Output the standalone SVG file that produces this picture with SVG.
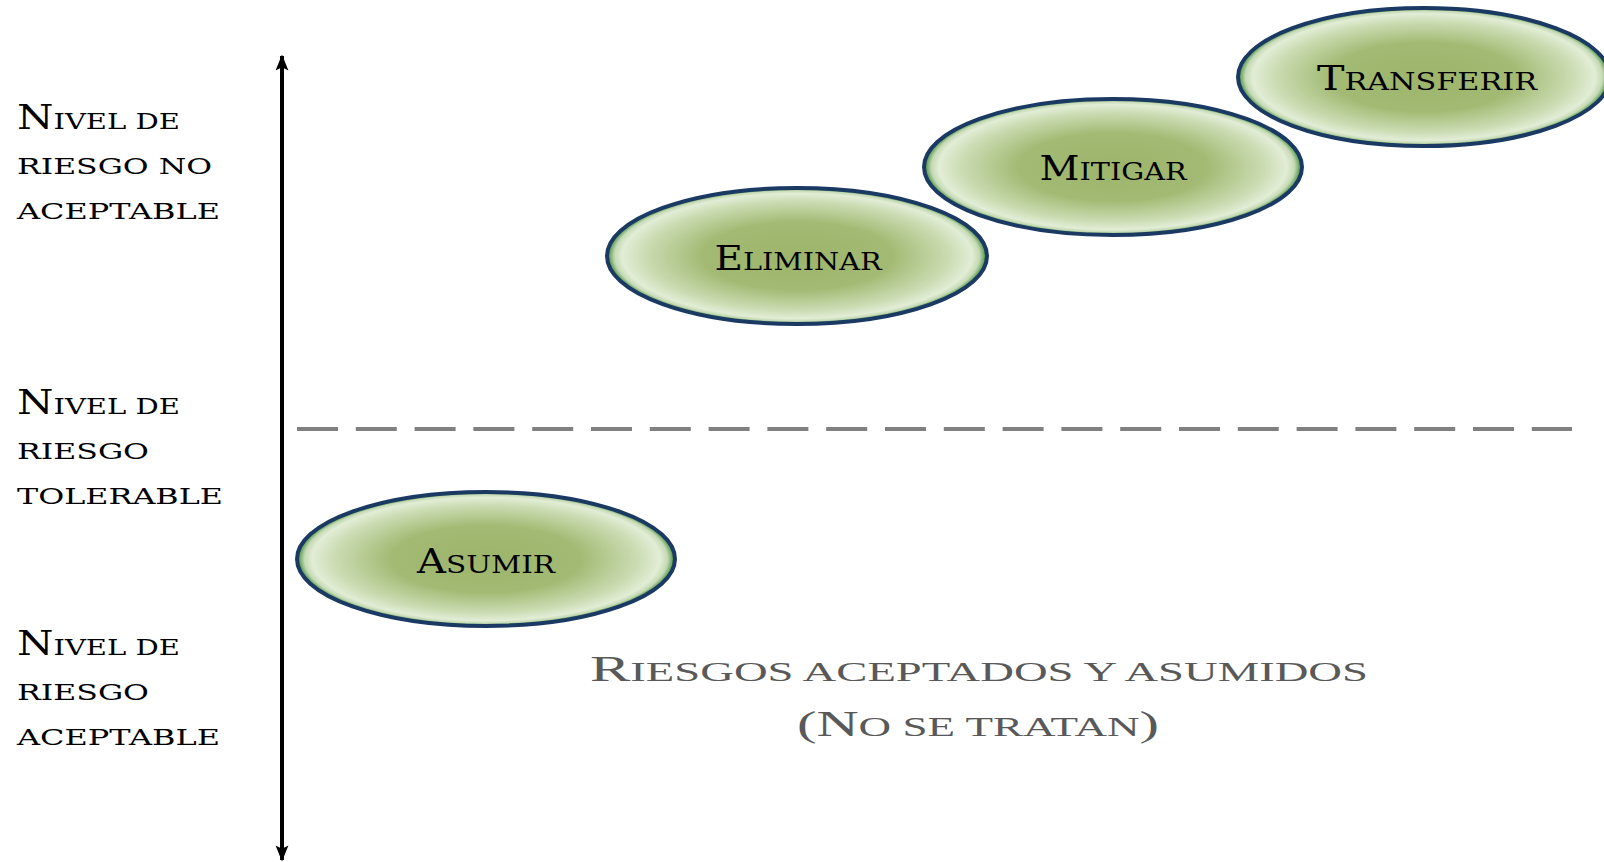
<svg xmlns="http://www.w3.org/2000/svg" width="1604" height="862" viewBox="0 0 1604 862">
<style>
.lbl{font-family:"DejaVu Serif","Liberation Serif",serif;font-size:33px;fill:#000}
.lbl .s{font-size:23px;text-transform:uppercase}
.node text{font-family:"DejaVu Serif","Liberation Serif",serif;font-size:34px;fill:#000;text-anchor:middle}
.node .s{font-size:25px;text-transform:uppercase}
.node ellipse{fill:url(#g);stroke:#1b3a63;stroke-width:4}
.note{font-family:"Liberation Serif","DejaVu Serif",serif;font-size:35px;fill:#595959;text-anchor:middle}
.note .s{font-size:27px;text-transform:uppercase}
</style>
<defs>
<radialGradient id="g" cx="50%" cy="50%" r="50%">
<stop offset="0" stop-color="#9cb46b"/>
<stop offset="0.5" stop-color="#a3ba74"/>
<stop offset="0.8" stop-color="#cbdcb3"/>
<stop offset="0.92" stop-color="#e2edd6"/>
<stop offset="0.96" stop-color="#c5dab4"/>
<stop offset="1" stop-color="#3a8636"/>
</radialGradient>
<marker id="ah" viewBox="0 0 10 10" refX="9" refY="5" markerWidth="5" markerHeight="4" orient="auto-start-reverse" markerUnits="strokeWidth">
<path d="M0,1 L10,5 L0,9 L2,5 Z" fill="#000"/>
</marker>
</defs>
<rect width="1604" height="862" fill="#fff"/>
<g id="connectors">
<line x1="282" y1="56" x2="282" y2="860" stroke="#000" stroke-width="4" marker-start="url(#ah)" marker-end="url(#ah)"/>
<line x1="297" y1="429" x2="1572" y2="429" stroke="#808080" stroke-width="4" stroke-dasharray="41 17.8"/>
</g>
<g id="label-no-aceptable">
<text class="lbl" x="17" y="129" textLength="163" lengthAdjust="spacingAndGlyphs">N<tspan class="s">ivel de</tspan></text>
<text class="lbl" x="17" y="174" textLength="195" lengthAdjust="spacingAndGlyphs"><tspan class="s">riesgo no</tspan></text>
<text class="lbl" x="17" y="219" textLength="203" lengthAdjust="spacingAndGlyphs"><tspan class="s">aceptable</tspan></text>
</g>
<g id="label-tolerable">
<text class="lbl" x="17" y="414" textLength="163" lengthAdjust="spacingAndGlyphs">N<tspan class="s">ivel de</tspan></text>
<text class="lbl" x="17" y="459" textLength="132" lengthAdjust="spacingAndGlyphs"><tspan class="s">riesgo</tspan></text>
<text class="lbl" x="17" y="504" textLength="206" lengthAdjust="spacingAndGlyphs"><tspan class="s">tolerable</tspan></text>
</g>
<g id="label-aceptable">
<text class="lbl" x="17" y="655" textLength="163" lengthAdjust="spacingAndGlyphs">N<tspan class="s">ivel de</tspan></text>
<text class="lbl" x="17" y="700" textLength="132" lengthAdjust="spacingAndGlyphs"><tspan class="s">riesgo</tspan></text>
<text class="lbl" x="17" y="745" textLength="203" lengthAdjust="spacingAndGlyphs"><tspan class="s">aceptable</tspan></text>
</g>
<g id="node-transferir" class="node">
<ellipse cx="1424" cy="77" rx="186" ry="69"/>
<text x="1427" y="90" textLength="220" lengthAdjust="spacingAndGlyphs">T<tspan class="s">ransferir</tspan></text>
</g>
<g id="node-mitigar" class="node">
<ellipse cx="1113" cy="167" rx="189" ry="68"/>
<text x="1113" y="180" textLength="147" lengthAdjust="spacingAndGlyphs">M<tspan class="s">itigar</tspan></text>
</g>
<g id="node-eliminar" class="node">
<ellipse cx="797" cy="256" rx="190" ry="68"/>
<text x="798" y="270" textLength="167" lengthAdjust="spacingAndGlyphs">E<tspan class="s">liminar</tspan></text>
</g>
<g id="node-asumir" class="node">
<ellipse cx="486" cy="559" rx="189" ry="67"/>
<text x="486" y="573" textLength="138" lengthAdjust="spacingAndGlyphs">A<tspan class="s">sumir</tspan></text>
</g>
<g id="note">
<text class="note" x="979" y="681" textLength="778" lengthAdjust="spacingAndGlyphs">R<tspan class="s">iesgos aceptados y asumidos</tspan></text>
<text class="note" x="978" y="736" textLength="362" lengthAdjust="spacingAndGlyphs">(N<tspan class="s">o se tratan</tspan>)</text>
</g>
</svg>
